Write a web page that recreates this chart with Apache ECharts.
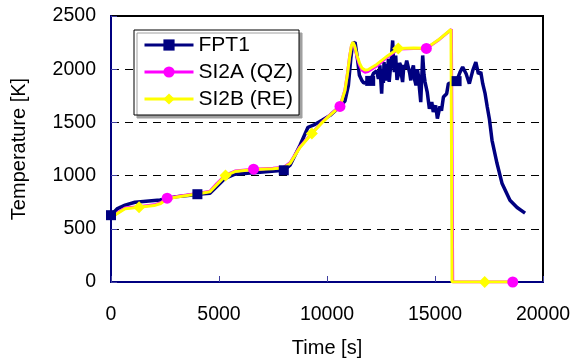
<!DOCTYPE html>
<html>
<head>
    <meta charset="utf-8" />
    <title>Temperature</title>
    <style type="text/css">
        html, body {
            margin: 0;
            padding: 0;
            background-color: #ffffff;
        }

        #chart {
            width: 584px;
            height: 363px;
        }
    </style>
</head>
<body>
    <div id="chart"></div>
    <script src="https://cdn.jsdelivr.net/npm/echarts@6/dist/echarts.min.js"></script>
    <script type="text/javascript">
        // FPT1 measured
        var fptTime = [0, 300, 650, 1110, 2270, 2960, 3660, 4000, 4580, 5050, 5280, 5740, 6900, 8000, 8290, 8750, 9120, 9450, 9770, 10140,
            10600, 10830, 10990, 11100, 11190, 11300, 11410, 11500, 11610, 11700, 11840, 11920, 12000, 12070, 12150, 12220, 12300, 12380,
            12450, 12490, 12530, 12580, 12610, 12640, 12690, 12730, 12780, 12810, 12840, 12880, 12920, 12980, 13040, 13080, 13120, 13180,
            13240, 13300, 13360, 13410, 13460, 13500, 13560, 13610, 13690, 13770, 13830, 13880, 13940, 14000, 14060, 14120, 14180, 14230,
            14280, 14340, 14430, 14490, 14540, 14640, 14740, 14850, 14920, 15030, 15110, 15230, 15300, 15390, 15540, 15620, 15660, 16000,
            16160, 16280, 16440, 16590, 16750, 16890, 17010, 17120, 17210, 17320, 17420, 17520, 17640, 17870, 18100, 18470, 18800, 19170];
        var fptTemp = [628, 690, 722, 750, 770, 800, 816, 825, 835, 929, 975, 1013, 1032, 1050, 1098, 1285, 1454, 1482, 1520, 1566,
            1650, 1700, 1848, 2098, 2239, 2254, 2098, 1942, 1895, 1870, 1879, 1865, 1890, 1895, 1960, 1942, 1985, 1910,
            2035, 1900, 1770, 2000, 1870, 2066, 1920, 1895, 2050, 1950, 2098, 1880, 1973, 2100, 2270, 2050, 1973, 2129,
            1900, 1942, 2060, 2035, 1930, 1879, 2040, 2004, 2080, 2066, 1960, 1895, 1990, 2035, 1900, 1848, 2000, 1942,
            1820, 1691, 2129, 1950, 1879, 1785, 1629, 1691, 1598, 1660, 1536, 1650, 1610, 1738, 1770, 1864, 1864, 1888,
            1973, 2020, 1957, 1864, 1989, 2066, 1957, 1973, 1864, 1770, 1645, 1530, 1332, 1116, 929, 769, 700, 647];
        var fptMarks = [0, 4000, 8000, 12000, 16000];

        // SI2A (QZ)
        var qzTime = [0, 300, 650, 1300, 2000, 2300, 2600, 3200, 4000, 4580, 4900, 5300, 5740, 6600, 7500, 8000, 8290, 8750, 9300, 9770,
            10140, 10600, 10830, 10950, 11050, 11130, 11200, 11280, 11390, 11500, 11620, 11760, 11900, 12300, 12800, 13300, 14000, 14600,
            15200, 15760, 15820, 17300, 18600];
        var qzTemp = [605, 650, 695, 708, 725, 745, 788, 808, 833, 852, 925, 1005, 1043, 1060, 1068, 1078, 1120, 1272, 1398, 1502,
            1572, 1650, 1805, 1965, 2125, 2215, 2245, 2205, 2115, 2040, 1990, 1972, 1978, 2030, 2115, 2190, 2195, 2195,
            2280, 2375, 0, 0, 0];
        var qzMarks = [2600, 6600, 10600, 14600, 18600];

        // SI2B (RE)
        var reTime = [0, 300, 650, 1300, 2000, 2300, 2600, 3200, 4000, 4580, 4900, 5300, 5740, 6600, 7500, 8000, 8290, 8750, 9300, 9770,
            10140, 10600, 10830, 10950, 11050, 11130, 11200, 11280, 11390, 11500, 11620, 11760, 11900, 12300, 12800, 13300, 14000, 14600,
            15200, 15740, 15790, 17300, 18600];
        var reTemp = [598, 645, 688, 703, 718, 738, 783, 803, 828, 848, 915, 1000, 1038, 1057, 1064, 1073, 1115, 1265, 1395, 1498,
            1568, 1648, 1800, 1960, 2120, 2220, 2254, 2220, 2130, 2060, 2010, 1992, 1995, 2045, 2125, 2195, 2200, 2198,
            2282, 2373, 0, 0, 0];
        var reMarks = [1300, 5300, 9300, 13300, 17300];

        var font = 'Liberation Sans, Arial, sans-serif';

        var zip = function (t, v) {
            var out = [];
            for (var i = 0; i < t.length; i++) {
                out.push([t[i], v[i]]);
            }
            return out;
        };

        var markSize = function (marks, size) {
            return function (val) {
                return marks.indexOf(val[0]) >= 0 ? size : 0;
            };
        };

        var plain = function (v) { return String(v); };

        var option = {
            animation: false,
            backgroundColor: '#ffffff',
            grid: {
                left: 111, right: 41, top: 16, bottom: 81,
                show: true, borderColor: '#000000', borderWidth: 2, backgroundColor: 'transparent'
            },
            legend: {
                orient: 'vertical',
                left: 134, top: 30,
                padding: [4, 6, 5, 9],
                itemWidth: 49, itemHeight: 14, itemGap: 5,
                backgroundColor: '#ffffff',
                borderColor: '#000000', borderWidth: 1,
                shadowColor: '#a0a0a0', shadowOffsetX: 3, shadowOffsetY: 3, shadowBlur: 0,
                lineStyle: { width: 3 },
                textStyle: { fontFamily: font, fontSize: 21, lineHeight: 22, color: '#000000' },
                data: ['FPT1', 'SI2A (QZ)', 'SI2B (RE)']
            },
            xAxis: {
                type: 'value', min: 0, max: 20000, interval: 5000,
                name: 'Time [s]', nameLocation: 'middle', nameGap: 56,
                nameTextStyle: { fontFamily: font, fontSize: 20, color: '#000000' },
                axisLine: { lineStyle: { color: '#000080', width: 2 } },
                axisTick: { inside: true, length: 6, lineStyle: { color: '#4040a0', width: 1 } },
                axisLabel: { margin: 23, fontFamily: font, fontSize: 19.5, color: '#000000', formatter: plain },
                splitLine: { show: false }
            },
            yAxis: {
                type: 'value', min: 0, max: 2500, interval: 500,
                name: 'Temperature [K]', nameLocation: 'middle', nameGap: 82,
                nameTextStyle: { fontFamily: font, fontSize: 20, color: '#000000' },
                axisLine: { show: true, lineStyle: { color: '#000080', width: 2 } },
                axisTick: { show: true, inside: true, length: 6, lineStyle: { color: '#4040a0', width: 1 } },
                axisLabel: { margin: 15, fontFamily: font, fontSize: 19.5, color: '#000000', formatter: plain },
                splitLine: {
                    show: true, showMinLine: false, showMaxLine: false,
                    lineStyle: { color: '#000000', width: 1, type: [8, 6] }
                }
            },
            series: [
                {
                    name: 'FPT1', type: 'line', data: zip(fptTime, fptTemp),
                    symbol: 'rect', symbolSize: markSize(fptMarks, 10),
                    lineStyle: { color: '#000080', width: 3.5 },
                    itemStyle: { color: '#000080' }
                },
                {
                    name: 'SI2A (QZ)', type: 'line', data: zip(qzTime, qzTemp),
                    symbol: 'circle', symbolSize: markSize(qzMarks, 11),
                    lineStyle: { color: '#ff00ff', width: 3 },
                    itemStyle: { color: '#ff00ff' }
                },
                {
                    name: 'SI2B (RE)', type: 'line', data: zip(reTime, reTemp),
                    symbol: 'diamond', symbolSize: markSize(reMarks, 12),
                    lineStyle: { color: '#ffff00', width: 3 },
                    itemStyle: { color: '#ffff00' }
                }
            ]
        };

        var myChart = echarts.init(document.getElementById('chart'), null, { renderer: 'canvas' });
        myChart.setOption(option);
    </script>
</body>
</html>
